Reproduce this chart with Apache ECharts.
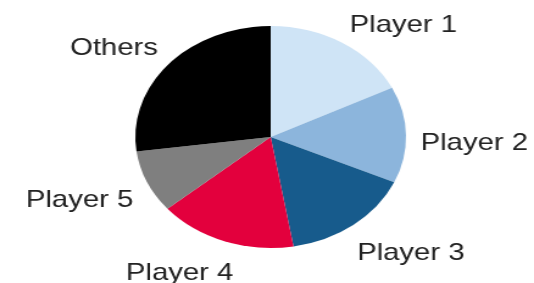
<!DOCTYPE html>
<html>
<head>
<meta charset="utf-8">
<script src="https://cdn.jsdelivr.net/npm/echarts@6/dist/echarts.min.js"></script>
<style>
  html, body { margin: 0; padding: 0; background: #fff; overflow: hidden; }
  /* the original picture is stretched sideways, so draw narrower and scale x */
  #main { width: 438px; height: 283px; transform: scaleX(1.2192); transform-origin: 0 0; }
</style>
</head>
<body>
<div id="main"></div>
<script>
var names = ['Player 1', 'Player 2', 'Player 3', 'Player 4', 'Player 5', 'Others'];
var shares = [17.7, 14.0, 15.6, 16.5, 9.1, 27.1];
var colors = ['#cfe4f6', '#8cb5dc', '#175b8c', '#e3003d', '#7f7f7f', '#000000'];
// small label nudges (px, before the x stretch)
var labelNudge = [[-7, -11], [-5, 9], [-11, 22], [19, 25], [5, 15], [6, -10]];

var myChart = echarts.init(document.getElementById('main'));

var option = {
    backgroundColor: '#fff',
    animation: false,
    series: [
        {
            type: 'pie',
            center: [222, 137],
            radius: 111,
            startAngle: 90,
            clockwise: true,
            data: names.map(function (n, i) {
                return { name: n, value: shares[i], itemStyle: { color: colors[i] } };
            }),
            label: {
                show: true,
                position: 'outside',
                formatter: '{b}',
                color: '#222',
                fontFamily: 'Liberation Sans, Arial, sans-serif',
                fontSize: 24,
                overflow: 'none'
            },
            labelLine: { show: false, length: 8, length2: 4 },
            labelLayout: function (params) {
                var d = labelNudge[params.dataIndex];
                return { dx: d[0], dy: d[1] };
            },
            itemStyle: { borderWidth: 0 }
        }
    ]
};
myChart.setOption(option);
</script>
</body>
</html>
